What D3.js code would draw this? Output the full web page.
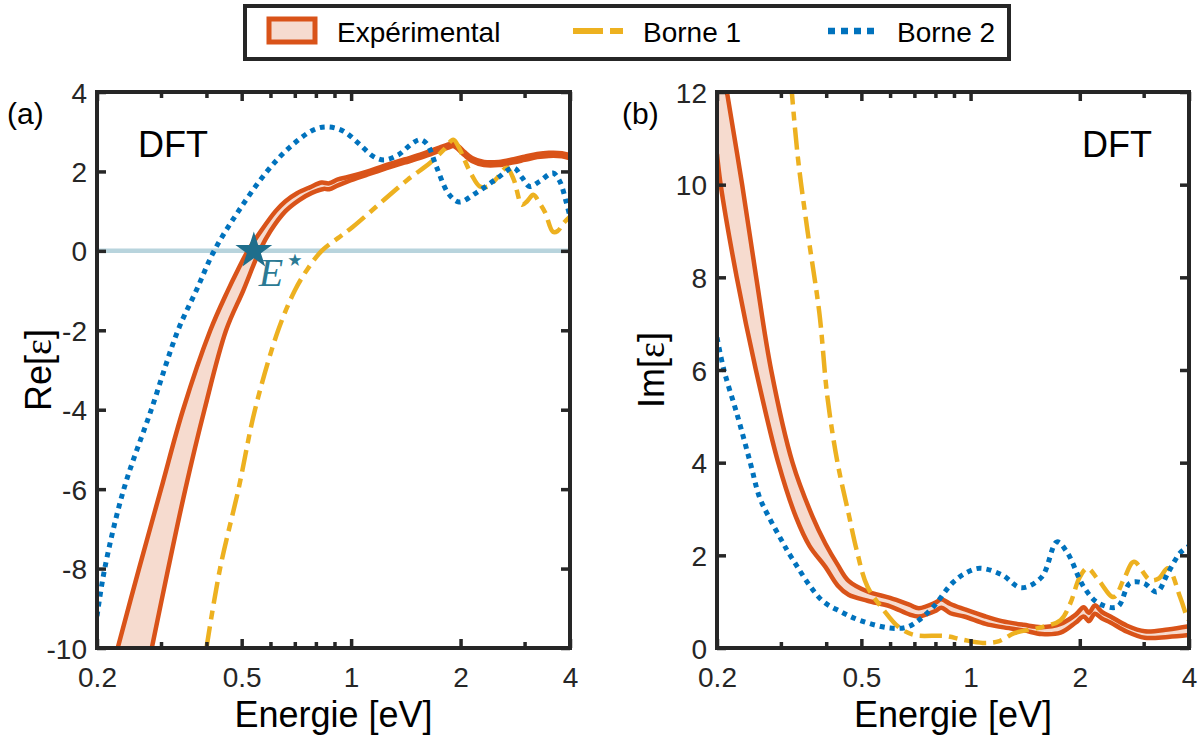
<!DOCTYPE html>
<html><head><meta charset="utf-8">
<script src="https://cdn.jsdelivr.net/npm/d3@7"></script>
<style>body{margin:0;background:#fff} svg{display:block}</style>
</head><body>
<svg id="chart" width="1199" height="737"></svg>
<script>
// ---------- data ----------
const xTicks = [0.2, 0.5, 1, 2, 4];
const xMinor = [0.3, 0.4, 0.6, 0.7, 0.8, 0.9, 3];
const yTicksA = [-10, -8, -6, -4, -2, 0, 2, 4];
const yTicksB = [0, 2, 4, 6, 8, 10, 12];
const legendLabels = ["Expérimental", "Borne 1", "Borne 2"];

// Panel (a) Re[eps]
const expA_hiE = [0.228,0.261,0.30,0.345,0.41,0.458,0.488,0.52,0.565,0.62,0.66,0.71,0.77,0.83,0.87,0.92,0.98,1.1,1.23,1.4,1.57,1.75,1.85,1.91,1.97,2.05,2.15,2.32,2.55,2.8,3.0,3.25,3.5,3.8,4.0];
const expA_hiV = [-10,-8,-6,-4,-2,-1,-0.48,0,0.5,1.0,1.25,1.45,1.6,1.72,1.7,1.8,1.86,1.99,2.14,2.3,2.44,2.6,2.68,2.72,2.64,2.49,2.34,2.24,2.24,2.31,2.37,2.44,2.47,2.46,2.41];
const expA_loE = [0.283,0.314,0.35,0.395,0.453,0.505,0.56,0.60,0.66,0.72,0.78,0.84,0.87,0.92,0.98,1.1,1.23,1.4,1.57,1.75,1.85,1.91,1.97,2.05,2.15,2.32,2.55,2.8,3.0,3.25,3.5,3.8,4.0];
const expA_loV = [-10,-8,-6,-4,-2,-1,0,0.5,1.0,1.28,1.46,1.56,1.55,1.65,1.75,1.91,2.06,2.22,2.36,2.52,2.6,2.64,2.56,2.41,2.26,2.16,2.16,2.23,2.29,2.36,2.39,2.38,2.33];

const b1A_E = [0.40,0.436,0.49,0.544,0.63,0.70,0.756,0.83,0.92,1.01,1.23,1.43,1.65,1.8,1.91,1.98,2.05,2.15,2.26,2.38,2.5,2.68,2.8,2.95,3.05,3.17,3.3,3.42,3.59,3.7,3.84,4.0];
const b1A_V = [-10,-8,-6,-4,-2,-1.0,-0.48,0,0.32,0.6,1.28,1.79,2.22,2.55,2.8,2.6,2.29,1.9,1.62,1.62,1.8,2.09,1.8,1.16,1.25,1.41,1.2,0.96,0.48,0.5,0.7,0.86];

const b2A_E = [0.2,0.21,0.237,0.282,0.334,0.375,0.42,0.49,0.587,0.68,0.79,0.86,0.95,1.05,1.15,1.23,1.35,1.47,1.55,1.62,1.72,1.85,1.98,2.2,2.5,2.8,2.95,3.1,3.3,3.59,3.75,3.9,4.0];
const b2A_V = [-9.2,-8,-6,-4,-2,-1,0,1,2,2.62,3.05,3.12,3.02,2.7,2.38,2.29,2.42,2.7,2.8,2.68,2.1,1.45,1.23,1.45,1.8,2.09,1.85,1.62,1.75,1.96,1.75,1.25,0.86];

const starE = 0.54, starV = 0;

// Panel (b) Im[eps]
const expB_hiE = [0.2,0.213,0.2346,0.2565,0.282,0.323,0.367,0.398,0.43,0.461,0.52,0.6,0.68,0.72,0.8,0.83,0.88,0.96,1.1,1.22,1.4,1.57,1.77,1.95,2.05,2.12,2.2,2.3,2.43,2.7,3.02,3.5,4];
const expB_hiV = [13.4,12,10,8,6,4,2.83,2.25,1.8,1.45,1.22,1.08,0.93,0.86,0.98,1.05,0.95,0.84,0.68,0.58,0.5,0.45,0.52,0.72,0.88,0.76,0.92,0.78,0.68,0.48,0.36,0.4,0.47];
const expB_loE = [0.2,0.2047,0.2267,0.256,0.295,0.33,0.36,0.398,0.43,0.461,0.52,0.6,0.68,0.72,0.8,0.83,0.88,0.96,1.1,1.22,1.4,1.57,1.77,1.95,2.05,2.12,2.2,2.3,2.43,2.7,3.02,3.5,4];
const expB_loV = [10.66,10,8,6,4,2.83,2.2,1.75,1.35,1.15,1.02,0.9,0.72,0.68,0.8,0.87,0.75,0.68,0.52,0.45,0.38,0.3,0.33,0.55,0.68,0.58,0.74,0.64,0.55,0.35,0.22,0.24,0.28];

const b1B_E = [0.32,0.334,0.355,0.383,0.403,0.43,0.461,0.485,0.52,0.576,0.634,0.70,0.85,0.95,1.08,1.2,1.32,1.57,1.77,1.88,2.0,2.1,2.25,2.48,2.65,2.82,3.12,3.3,3.5,3.78,3.95,4.0];
const b1B_V = [12.2,10.6,9.02,7.23,5.42,3.99,2.9,2.12,1.32,0.82,0.45,0.28,0.26,0.18,0.11,0.15,0.32,0.45,0.6,0.95,1.53,1.72,1.47,1.1,1.5,1.86,1.47,1.5,1.72,1.1,0.67,0.6];

const b2B_E = [0.2,0.209,0.228,0.247,0.262,0.277,0.3,0.32,0.388,0.44,0.494,0.6,0.667,0.72,0.79,0.89,0.97,1.06,1.22,1.38,1.57,1.73,1.85,2.05,2.25,2.54,2.75,3.0,3.26,3.5,3.78,4.0];
const b2B_V = [6.7,6,5,4,3.25,2.85,2.35,1.97,1.04,0.78,0.6,0.43,0.45,0.6,0.89,1.4,1.62,1.72,1.58,1.3,1.53,2.29,2.05,1.32,0.97,0.89,1.4,1.4,1.21,1.62,2.05,2.2];

// ---------- style ----------
const C_ORANGE = "#d95319", C_FILL = "#f6dbcf", C_YEL = "#edb120", C_BLUE = "#0072bd";
const C_AX = "#262626", C_TEAL = "#1f6e8c", C_ZERO = "#b8d4dd";
const FONT = "'Liberation Sans', Arial, Helvetica, sans-serif";
const DASH_Y = "22,7,9,7", DASH_B = "5,5";

const svg = d3.select("#chart");
const zip = (E, V) => E.map((e, i) => [e, V[i]]);

function panel(opts) {
  const x = d3.scaleLog().domain([0.2, 4]).range([opts.x0, opts.x1]);
  const y = d3.scaleLinear().domain(opts.yDom).range([648, 92]);
  const g = svg.append("g");
  const cid = "clip" + opts.id;
  svg.append("clipPath").attr("id", cid).append("rect")
    .attr("x", opts.x0).attr("y", 92).attr("width", opts.x1 - opts.x0).attr("height", 556);
  const pg = g.append("g").attr("clip-path", `url(#${cid})`);
  const line = d3.line().x(d => x(d[0])).y(d => y(d[1])).curve(d3.curveCatmullRom.alpha(0.5));

  const hi = zip(opts.hiE, opts.hiV), lo = zip(opts.loE, opts.loV);
  const bandD = line(hi) + "L" + line(lo.slice().reverse()).slice(1) + "Z";
  pg.append("path").attr("d", bandD).attr("fill", C_FILL).attr("stroke", "none");

  if (opts.zero) {
    pg.append("line").attr("x1", opts.x0).attr("x2", opts.x1)
      .attr("y1", y(0)).attr("y2", y(0)).attr("stroke", C_ZERO).attr("stroke-width", 4.5);
  }
  pg.append("path").attr("d", line(hi)).attr("fill", "none").attr("stroke", C_ORANGE).attr("stroke-width", 4.5);
  pg.append("path").attr("d", line(lo)).attr("fill", "none").attr("stroke", C_ORANGE).attr("stroke-width", 4.5);
  pg.append("path").attr("d", line(zip(opts.b1E, opts.b1V))).attr("fill", "none")
    .attr("stroke", C_YEL).attr("stroke-width", 4.5).attr("stroke-dasharray", DASH_Y);
  pg.append("path").attr("d", line(zip(opts.b2E, opts.b2V))).attr("fill", "none")
    .attr("stroke", C_BLUE).attr("stroke-width", 5).attr("stroke-dasharray", DASH_B);

  const mk = (axis, tr, vals, len, labels) => {
    const a = g.append("g").attr("transform", tr)
      .call(axis.tickValues(vals).tickSizeInner(-len).tickSizeOuter(0)
        .tickPadding(labels ? 10 : 0)
        .tickFormat(labels ? (d => String(d)) : () => ""));
    a.select(".domain").remove();
    a.selectAll(".tick line").attr("stroke", C_AX).attr("stroke-width", 3.5);
    a.selectAll("text").attr("font-family", FONT).attr("font-size", 28).attr("fill", C_AX);
    return a;
  };
  const xb = mk(d3.axisBottom(x), "translate(0,648)", xTicks, 9, true);
  xb.selectAll("text").attr("dy", null).attr("y", 39);
  mk(d3.axisBottom(x), "translate(0,648)", xMinor, 6, false);
  mk(d3.axisTop(x), "translate(0,92)", xTicks, 9, false);
  mk(d3.axisTop(x), "translate(0,92)", xMinor, 6, false);
  const ya = mk(d3.axisLeft(y), `translate(${opts.x0},0)`, opts.yTicks, 9, true);
  ya.selectAll("text").attr("x", -10).attr("dy", "0.36em");
  mk(d3.axisRight(y), `translate(${opts.x1},0)`, opts.yTicks, 9, false);

  g.append("rect").attr("x", opts.x0).attr("y", 92).attr("width", opts.x1 - opts.x0).attr("height", 556)
    .attr("fill", "none").attr("stroke", C_AX).attr("stroke-width", 4);

  g.append("text").attr("x", (opts.x0 + opts.x1) / 2).attr("y", 727).attr("text-anchor", "middle")
    .attr("font-family", FONT).attr("font-size", 36).attr("fill", "#000").text("Energie [eV]");
  const yt = g.append("text").attr("transform", `translate(${opts.ylx},370) rotate(-90)`)
    .attr("text-anchor", "middle").attr("font-family", FONT).attr("font-size", 36).attr("fill", "#000");
  yt.append("tspan").text(opts.yName + "[");
  yt.append("tspan").attr("font-family", "'Liberation Serif', 'DejaVu Serif', serif").attr("font-size", 38).text("ε");
  yt.append("tspan").text("]");
  g.append("text").attr("x", opts.tagX).attr("y", 124).attr("font-family", FONT).attr("font-size", 30)
    .attr("fill", "#000").text(opts.tag);
  g.append("text").attr("x", opts.dftX).attr("y", 157).attr("text-anchor", opts.dftAnchor)
    .attr("font-family", FONT).attr("font-size", 36).attr("fill", "#000").text("DFT");
  return {x, y, g};
}

const A = panel({id: "a", x0: 97, x1: 570, yDom: [-10, 4], yTicks: yTicksA,
  hiE: expA_hiE, hiV: expA_hiV, loE: expA_loE, loV: expA_loV,
  b1E: b1A_E, b1V: b1A_V, b2E: b2A_E, b2V: b2A_V, zero: true,
  ylx: 51, yName: "Re", tag: "(a)", tagX: 7, dftX: 138, dftAnchor: "start"});

A.g.append("path").attr("d", d3.symbol().type(d3.symbolStar).size(420)())
  .attr("transform", `translate(${A.x(starE)},${A.y(starV)})`).attr("fill", C_TEAL);
const st = A.g.append("text").attr("x", A.x(starE) + 5).attr("y", A.y(starV) + 35)
  .attr("font-family", "'Liberation Serif', 'DejaVu Serif', serif").attr("font-style", "italic")
  .attr("font-size", 40).attr("fill", "#2b7a94");
st.append("tspan").text("E");
st.append("tspan").attr("font-family", "'DejaVu Sans', sans-serif").attr("font-size", 34)
  .attr("dy", -15).attr("dx", 1).attr("font-style", "normal").text("⋆");

const B = panel({id: "b", x0: 717, x1: 1189, yDom: [0, 12], yTicks: yTicksB,
  hiE: expB_hiE, hiV: expB_hiV, loE: expB_loE, loV: expB_loV,
  b1E: b1B_E, b1V: b1B_V, b2E: b2B_E, b2V: b2B_V, zero: false,
  ylx: 664, yName: "Im", tag: "(b)", tagX: 622, dftX: 1152, dftAnchor: "end"});

// ---------- legend ----------
const lg = svg.append("g");
lg.append("rect").attr("x", 245).attr("y", 6).attr("width", 764).attr("height", 53)
  .attr("fill", "#fff").attr("stroke", C_AX).attr("stroke-width", 4);
lg.append("rect").attr("x", 269).attr("y", 19).attr("width", 46).attr("height", 23)
  .attr("fill", C_FILL).attr("stroke", C_ORANGE).attr("stroke-width", 5);
lg.append("line").attr("x1", 573).attr("x2", 623).attr("y1", 31).attr("y2", 31)
  .attr("stroke", C_YEL).attr("stroke-width", 6).attr("stroke-dasharray", "30,7");
lg.append("line").attr("x1", 828).attr("x2", 877).attr("y1", 31).attr("y2", 31)
  .attr("stroke", C_BLUE).attr("stroke-width", 6.5).attr("stroke-dasharray", "7,6");
[[337, 0], [643, 1], [897, 2]].forEach(([xx, i]) => {
  lg.append("text").attr("x", xx).attr("y", 42).attr("font-family", FONT).attr("font-size", 28)
    .attr("fill", "#000").text(legendLabels[i]);
});
</script>
</body></html>
